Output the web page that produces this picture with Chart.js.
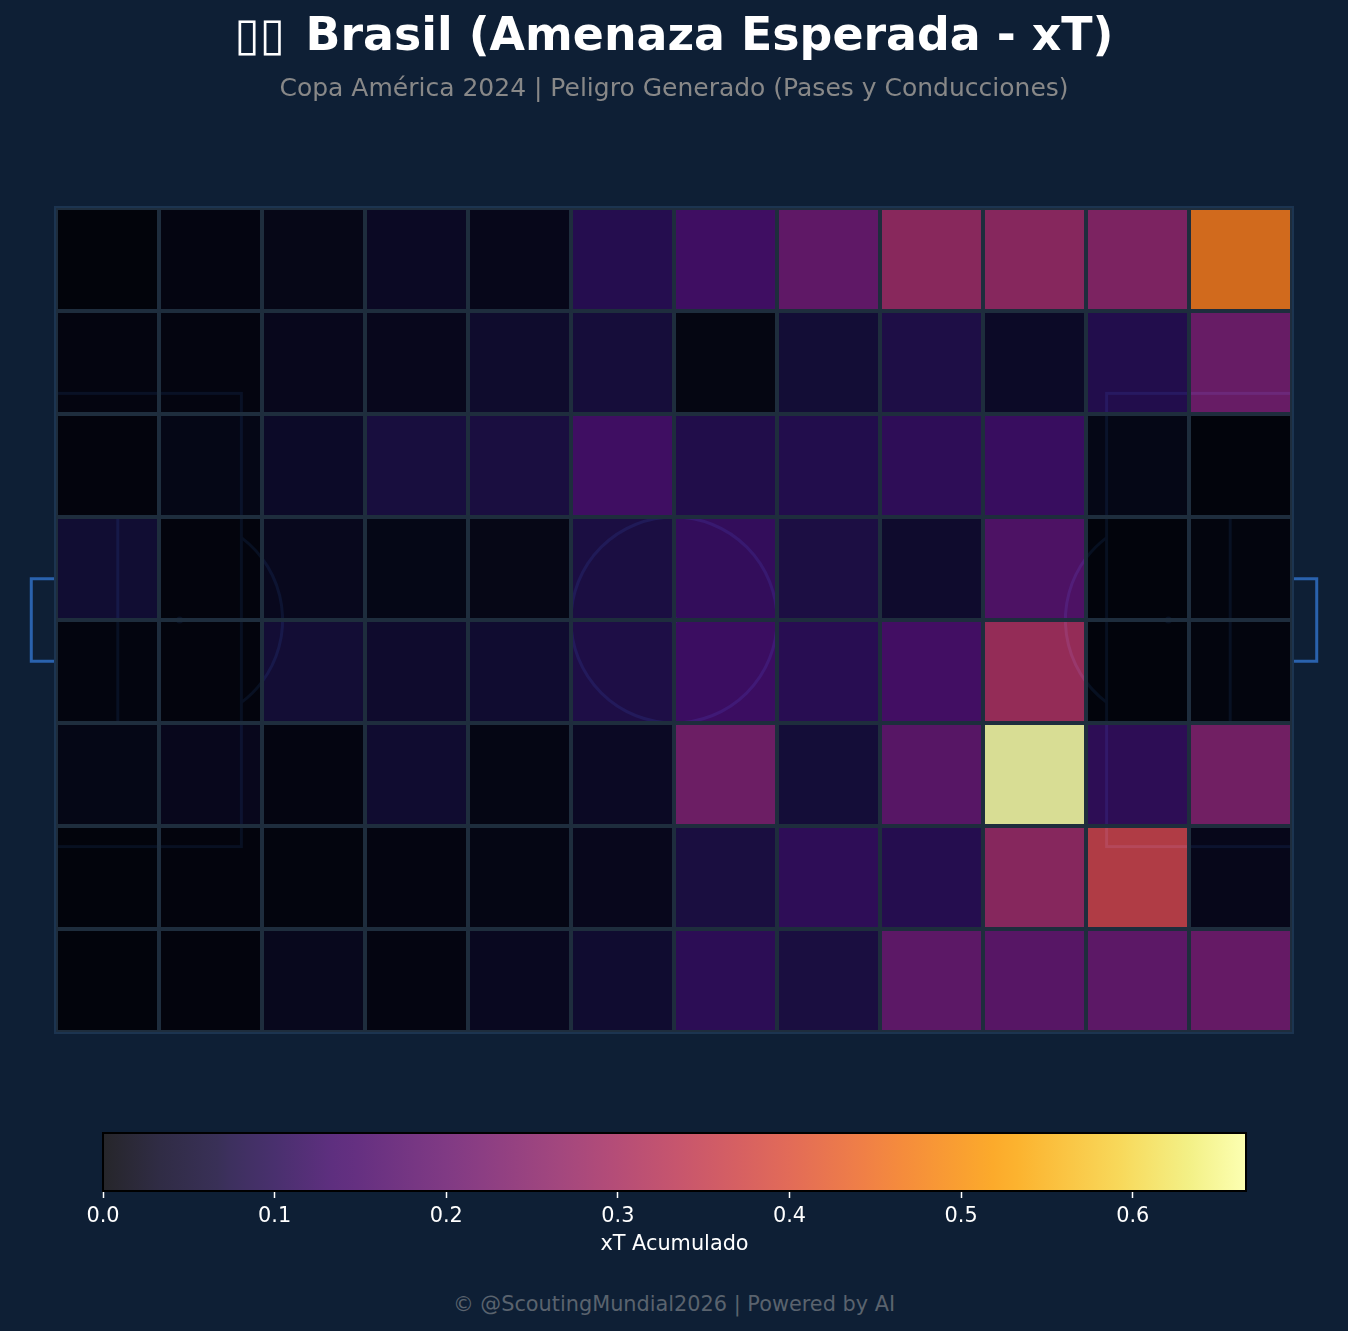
<!DOCTYPE html>
<html>
<head>
<meta charset="utf-8">
<title>Brasil xT</title>
<script src="https://cdn.jsdelivr.net/npm/chart.js@4"></script>
<style>
    html, body { margin: 0; padding: 0; background: #0e1f35; }
    body { position: relative; width: 1348px; height: 1331px; overflow: hidden; font-family: "DejaVu Sans", sans-serif; }
    canvas { position: absolute; left: 0; }
    #pitchChart { top: 0; }
    #scaleChart { top: 1100px; }
    #footer { position: absolute; left: 0; width: 1348px; top: 1292px; text-align: center; font-size: 20.83px; line-height: 24px; color: #5a636e; }
</style>
</head>
<body>
<canvas id="pitchChart" width="1348" height="1100"></canvas>
<canvas id="scaleChart" width="1348" height="157"></canvas>
<div id="footer">© @ScoutingMundial2026 | Powered by AI</div>

<script>
// xT per zone, top row of the pitch first
const row1 = [0.000, 0.006, 0.015, 0.030, 0.018, 0.100, 0.145, 0.205, 0.285, 0.280, 0.260, 0.466];
const row2 = [0.005, 0.005, 0.020, 0.020, 0.046, 0.068, 0.008, 0.062, 0.085, 0.035, 0.095, 0.220];
const row3 = [0.002, 0.012, 0.036, 0.073, 0.075, 0.145, 0.090, 0.095, 0.115, 0.130, 0.012, 0.001];
const row4 = [0.055, 0.002, 0.022, 0.012, 0.014, 0.078, 0.122, 0.080, 0.045, 0.170, 0.001, 0.003];
const row5 = [0.004, 0.002, 0.060, 0.045, 0.050, 0.085, 0.135, 0.105, 0.150, 0.305, 0.001, 0.003];
const row6 = [0.012, 0.020, 0.006, 0.050, 0.010, 0.030, 0.230, 0.065, 0.190, 0.666, 0.112, 0.240];
const row7 = [0.001, 0.002, 0.003, 0.006, 0.010, 0.020, 0.075, 0.115, 0.100, 0.280, 0.365, 0.018];
const row8 = [0.001, 0.002, 0.022, 0.006, 0.025, 0.050, 0.110, 0.075, 0.200, 0.190, 0.200, 0.215];
const rows = [row1, row2, row3, row4, row5, row6, row7, row8];

const columns = ['0-10', '10-20', '20-30', '30-40', '40-50', '50-60', '60-70', '70-80', '80-90', '90-100', '100-110', '110-120'];
const scaleMax = 0.666;
const scaleTicks = [0, 0.1, 0.2, 0.3, 0.4, 0.5, 0.6];

const FONT = '"DejaVu Sans", sans-serif';
const CELL_ALPHA = 0.85;

// inferno colormap, [position, r, g, b]
const inferno = [
    [0, 0, 0, 4], [0.05, 11, 7, 36], [0.1, 22, 11, 57], [0.111, 27, 12, 65], [0.15, 41, 11, 84],
    [0.2, 66, 10, 104], [0.222, 74, 12, 107], [0.3, 106, 23, 110], [0.333, 120, 28, 109],
    [0.4, 147, 38, 103], [0.444, 165, 44, 96], [0.5, 188, 55, 84], [0.556, 207, 68, 70],
    [0.6, 221, 81, 58], [0.667, 237, 105, 37], [0.7, 243, 120, 25], [0.778, 251, 155, 6],
    [0.8, 252, 165, 10], [0.889, 247, 209, 61], [0.9, 246, 215, 70], [0.95, 241, 237, 113], [1, 252, 255, 164]
];

function infernoAt(t) {
    const v = Math.min(Math.max(t, 0), 1);
    let i = 0;
    while (i < inferno.length - 2 && inferno[i + 1][0] <= v) i++;
    const a = inferno[i], b = inferno[i + 1];
    const f = (v - a[0]) / (b[0] - a[0]);
    return [1, 2, 3].map(k => a[k] + (b[k] - a[k]) * f);
}

function cellColor(value) {
    const [r, g, b] = infernoAt(value / scaleMax);
    return `rgba(${r}, ${g}, ${b}, ${CELL_ALPHA})`;
}

// the colour bar sits on white, so its steps come out lighter than the cells
function barColor(t) {
    const [r, g, b] = infernoAt(t).map(c => c * CELL_ALPHA + 255 * (1 - CELL_ALPHA));
    return `rgb(${r}, ${g}, ${b})`;
}

// Pitch markings, 120 x 80 units, drawn under the translucent cells
const pitchLines = {
    id: 'pitchLines',
    beforeDatasetsDraw(chart) {
        const { ctx, scales } = chart;
        const px = v => scales.pitchX.getPixelForValue(v);
        const py = v => scales.y.getPixelForValue(v);
        const unit = px(10) - px(0);
        const box = (x0, y0, x1, y1) => ctx.strokeRect(px(x0), py(y0), px(x1) - px(x0), py(y1) - py(y0));

        ctx.save();
        ctx.strokeStyle = '#2f6bc4';
        ctx.fillStyle = '#2f6bc4';
        ctx.lineWidth = 3;

        box(0, 18, 18, 62);
        box(102, 18, 120, 62);
        box(0, 30, 6, 50);
        box(114, 30, 120, 50);

        ctx.beginPath();
        ctx.arc(px(60), py(40), unit, 0, Math.PI * 2);
        ctx.stroke();

        // penalty arcs outside the box
        const arcAngle = Math.acos(0.6);
        ctx.beginPath();
        ctx.arc(px(12), py(40), unit, -arcAngle, arcAngle);
        ctx.stroke();
        ctx.beginPath();
        ctx.arc(px(108), py(40), unit, Math.PI - arcAngle, Math.PI + arcAngle);
        ctx.stroke();

        [12, 60, 108].forEach(x => {
            ctx.beginPath();
            ctx.arc(px(x), py(40), 3.5, 0, Math.PI * 2);
            ctx.fill();
        });

        // touchlines
        ctx.strokeStyle = '#1c3450';
        ctx.lineWidth = 4;
        box(0, 0, 120, 80);

        // goals
        ctx.strokeStyle = '#2a62ad';
        ctx.lineWidth = 3;
        ctx.beginPath();
        ctx.moveTo(px(0) - 2, py(36));
        ctx.lineTo(px(-2.4), py(36));
        ctx.lineTo(px(-2.4), py(44));
        ctx.lineTo(px(0) - 2, py(44));
        ctx.moveTo(px(120) + 2, py(36));
        ctx.lineTo(px(122.4), py(36));
        ctx.lineTo(px(122.4), py(44));
        ctx.lineTo(px(120) + 2, py(44));
        ctx.stroke();
        ctx.restore();
    }
};

new Chart(document.getElementById('pitchChart'), {
    type: 'bar',
    plugins: [pitchLines],
    data: {
        labels: columns,
        datasets: rows.map((values, r) => ({
            label: 'Fila ' + (r + 1),
            data: values.map(() => [r * 10, (r + 1) * 10]),
            backgroundColor: values.map(cellColor),
            borderColor: '#1e2d3d',
            borderWidth: 2,
            borderSkipped: false,
            inflateAmount: 0,
            barPercentage: 1,
            categoryPercentage: 1,
            grouped: false
        }))
    },
    options: {
        responsive: false,
        animation: false,
        layout: { padding: { left: 56, right: 56, top: 0, bottom: 68 } },
        scales: {
            x: { display: false },
            pitchX: { axis: 'x', type: 'linear', display: false, offset: false, min: 0, max: 120 },
            y: { display: false, min: 0, max: 80, reverse: true }
        },
        plugins: {
            legend: { display: false },
            tooltip: { enabled: false },
            title: {
                display: true,
                text: '▯▯\u200A Brasil (Amenaza Esperada - xT)',
                color: '#ffffff',
                font: { family: FONT, size: 45.83, weight: 'bold', lineHeight: 1 },
                padding: { top: 15, bottom: 16.17 }
            },
            subtitle: {
                display: true,
                text: 'Copa América 2024 | Peligro Generado (Pases y Conducciones)',
                color: '#888888',
                font: { family: FONT, size: 25, weight: 'normal', lineHeight: 1 },
                padding: { top: 0, bottom: 106 }
            }
        }
    }
});

// Black frame round the colour bar
const barFrame = {
    id: 'barFrame',
    afterDatasetsDraw(chart) {
        const { ctx, chartArea: a } = chart;
        ctx.save();
        ctx.strokeStyle = '#000000';
        ctx.lineWidth = 2;
        ctx.strokeRect(a.left, a.top, a.right - a.left, a.bottom - a.top);
        ctx.restore();
    }
};

new Chart(document.getElementById('scaleChart'), {
    type: 'bar',
    plugins: [barFrame],
    data: {
        labels: ['xT'],
        datasets: [{
            data: [[0, scaleMax]],
            backgroundColor(context) {
                const { chart } = context;
                if (!chart.chartArea) return '#000000';
                const x = chart.scales.x;
                const grad = chart.ctx.createLinearGradient(x.getPixelForValue(0), 0, x.getPixelForValue(scaleMax), 0);
                inferno.forEach(stop => grad.addColorStop(stop[0], barColor(stop[0])));
                return grad;
            },
            borderWidth: 0,
            inflateAmount: 0,
            barPercentage: 1,
            categoryPercentage: 1
        }]
    },
    options: {
        indexAxis: 'y',
        responsive: false,
        animation: false,
        layout: { padding: { left: 103, right: 102, top: 33, bottom: 0 } },
        scales: {
            y: { display: false },
            x: {
                type: 'linear',
                min: 0,
                max: scaleMax,
                afterFit(scale) { scale.height = 66; },
                afterBuildTicks(scale) { scale.ticks = scaleTicks.map(value => ({ value })); },
                border: { display: false },
                grid: { drawOnChartArea: false, drawTicks: true, tickLength: 7, tickColor: '#ffffff', tickWidth: 1.5 },
                ticks: {
                    color: '#ffffff',
                    padding: 8,
                    maxRotation: 0,
                    autoSkip: false,
                    font: { family: FONT, size: 20.83, lineHeight: 1 },
                    callback: value => value.toFixed(1)
                },
                title: {
                    display: true,
                    text: 'xT Acumulado',
                    color: '#ffffff',
                    font: { family: FONT, size: 20.83, lineHeight: 1 },
                    padding: { top: 0, bottom: 2 }
                }
            }
        },
        plugins: {
            legend: { display: false },
            tooltip: { enabled: false }
        }
    }
});
</script>
</body>
</html>
